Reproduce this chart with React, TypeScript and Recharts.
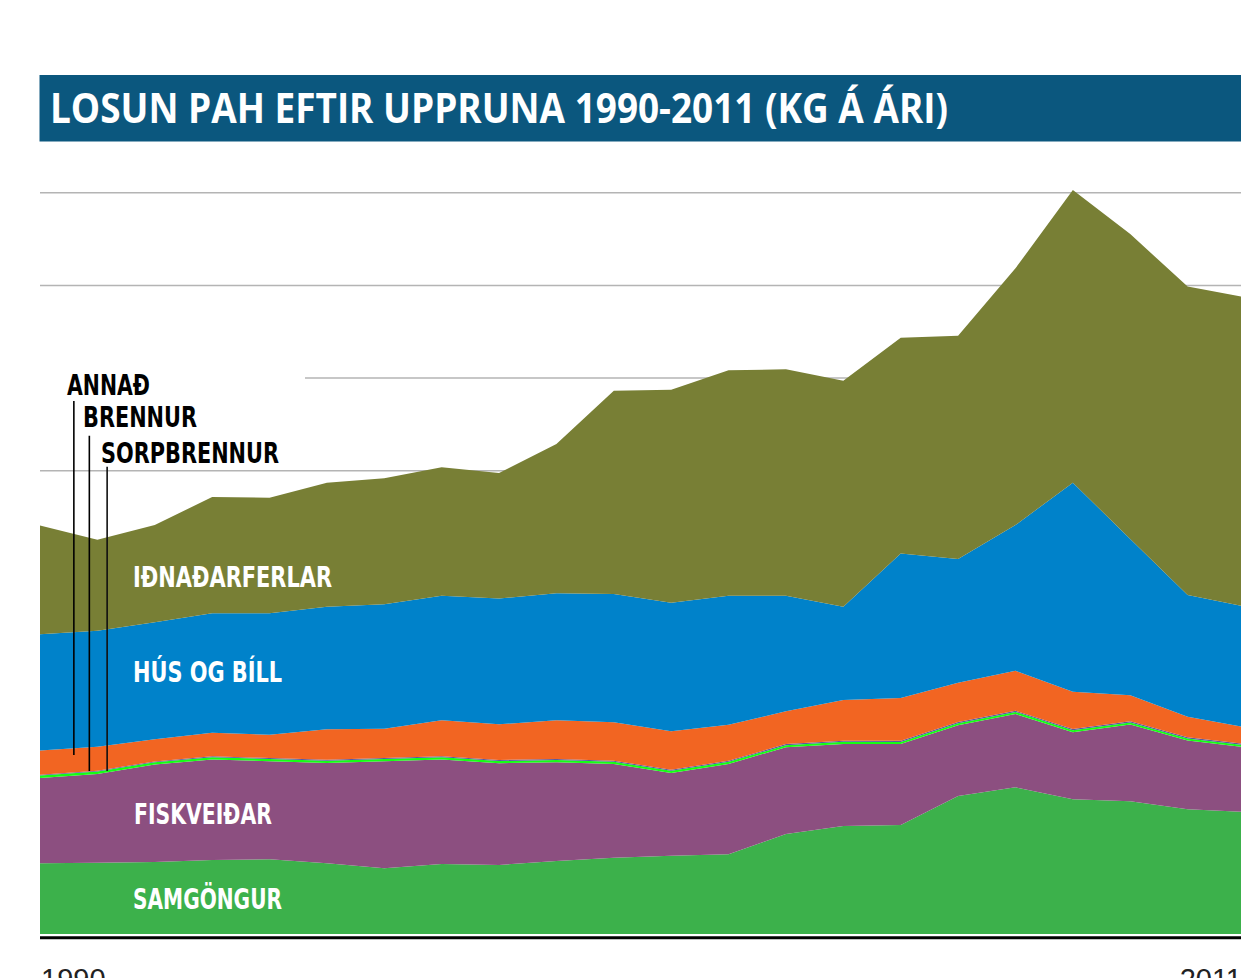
import React from 'react';
import { AreaChart, Area, XAxis, YAxis, CartesianGrid, ReferenceLine } from 'recharts';

const years = [1990, 1991, 1992, 1993, 1994, 1995, 1996, 1997, 1998, 1999, 2000, 2001, 2002, 2003, 2004, 2005, 2006, 2007, 2008, 2009, 2010, 2011];
const samgongur = [0.763, 0.770, 0.777, 0.799, 0.806, 0.763, 0.709, 0.756, 0.745, 0.788, 0.824, 0.845, 0.860, 1.079, 1.166, 1.176, 1.489, 1.583, 1.454, 1.432, 1.346, 1.317];
const fiskveidar = [0.922, 0.958, 1.052, 1.085, 1.059, 1.084, 1.156, 1.128, 1.099, 1.066, 1.012, 0.894, 0.976, 0.937, 0.886, 0.875, 0.764, 0.792, 0.724, 0.829, 0.743, 0.699];
const sorpbrennur = [0.027, 0.026, 0.025, 0.025, 0.024, 0.024, 0.024, 0.023, 0.023, 0.023, 0.022, 0.022, 0.022, 0.022, 0.022, 0.022, 0.022, 0.022, 0.022, 0.022, 0.022, 0.022];
const brennur = [0.008, 0.008, 0.009, 0.009, 0.010, 0.010, 0.010, 0.011, 0.011, 0.011, 0.012, 0.012, 0.012, 0.012, 0.012, 0.012, 0.012, 0.012, 0.012, 0.012, 0.012, 0.012];
const annad = [0.260, 0.260, 0.238, 0.255, 0.252, 0.329, 0.317, 0.389, 0.386, 0.418, 0.415, 0.415, 0.389, 0.353, 0.440, 0.461, 0.425, 0.432, 0.403, 0.281, 0.223, 0.181];
const husOgBill = [1.256, 1.252, 1.263, 1.289, 1.310, 1.323, 1.343, 1.345, 1.356, 1.371, 1.385, 1.388, 1.392, 1.248, 1.007, 1.562, 1.335, 1.573, 2.256, 1.687, 1.314, 1.302];
const idnadarferlar = [1.172, 0.982, 1.050, 1.255, 1.248, 1.338, 1.360, 1.386, 1.357, 1.611, 2.194, 2.299, 2.433, 2.444, 2.439, 2.327, 2.410, 2.771, 3.159, 3.292, 3.328, 3.339];

const gridTicks = [5, 6, 7, 8];
const xTicks = [1990, 2011];

const TITLE = 'LOSUN PAH EFTIR UPPRUNA 1990-2011 (KG Á ÁRI)';

const data = years.map((year, i) => ({
  year,
  samgongur: samgongur[i],
  fiskveidar: fiskveidar[i],
  sorpbrennur: sorpbrennur[i],
  brennur: brennur[i],
  annad: annad[i],
  husOgBill: husOgBill[i],
  idnadarferlar: idnadarferlar[i],
}));

const labelFont = "'Liberation Sans Narrow','DejaVu Sans Condensed','Open Sans','DejaVu Sans',sans-serif";

const XTick = (props: any) => {
  const { x, y, payload } = props;
  const first = payload.value === years[0];
  return (
    <text
      x={first ? x + 1 : x - 3}
      y={y + 51}
      textAnchor={first ? 'start' : 'end'}
      fontFamily="'Liberation Sans', Arial, sans-serif"
      fontSize={29}
      fill="#222"
    >
      {payload.value}
    </text>
  );
};

const EmptyTick = () => <g />;

const L = (p: { x: number; y: number; w: number; t: string; fill: string; size?: number }) => (
  <text
    x={p.x}
    y={p.y}
    textLength={p.w}
    lengthAdjust="spacingAndGlyphs"
    fontFamily={labelFont}
    fontWeight={700}
    fontSize={p.size ?? 29}
    fill={p.fill}
  >
    {p.t}
  </text>
);

export default function App() {
  return (
    <div style={{ position: 'absolute', left: 0, top: 0, width: 1241, height: 978, overflow: 'hidden', background: '#fff' }}>
      <AreaChart
        width={1260}
        height={978}
        data={data}
        margin={{ top: 146.5, right: 15, bottom: 0.3, left: 40 }}
      >
        <CartesianGrid horizontal vertical={false} horizontalValues={gridTicks} stroke="#b4b4b4" strokeWidth={1.5} />
        <XAxis
          dataKey="year"
          type="number"
          domain={[1990, 2011]}
          ticks={xTicks}
          height={40}
          tickSize={0}
          tickMargin={0}
          tickLine={false}
          axisLine={{ stroke: '#000', strokeWidth: 3 }}
          tick={<XTick />}
          interval={0}
        />
        <YAxis
          type="number"
          domain={[-0.04, 8.5]}
          ticks={gridTicks}
          width={0}
          tick={<EmptyTick />}
          tickLine={false}
          axisLine={false}
          interval={0}
        />
        <Area dataKey="samgongur" stackId="a" type="linear" fill="#3cb14b" fillOpacity={1} stroke="none" isAnimationActive={false} />
        <Area dataKey="fiskveidar" stackId="a" type="linear" fill="#8c4f80" fillOpacity={1} stroke="none" isAnimationActive={false} />
        <Area dataKey="sorpbrennur" stackId="a" type="linear" fill="#14ff14" fillOpacity={1} stroke="none" isAnimationActive={false} />
        <Area dataKey="brennur" stackId="a" type="linear" fill="#5a5aa0" fillOpacity={1} stroke="none" isAnimationActive={false} />
        <Area dataKey="annad" stackId="a" type="linear" fill="#f26522" fillOpacity={1} stroke="none" isAnimationActive={false} />
        <Area dataKey="husOgBill" stackId="a" type="linear" fill="#0082ca" fillOpacity={1} stroke="none" isAnimationActive={false} />
        <Area dataKey="idnadarferlar" stackId="a" type="linear" fill="#787f35" fillOpacity={1} stroke="none" isAnimationActive={false} />
        <ReferenceLine segment={[{ x: 1990.59, y: 5.753 }, { x: 1990.59, y: 1.932 }]} stroke="#000" strokeWidth={1.6} />
        <ReferenceLine segment={[{ x: 1990.86, y: 5.378 }, { x: 1990.86, y: 1.759 }]} stroke="#000" strokeWidth={1.6} />
        <ReferenceLine segment={[{ x: 1991.17, y: 5.044 }, { x: 1991.17, y: 1.759 }]} stroke="#111" strokeWidth={1.6} />
      </AreaChart>
      <svg
        width={1241}
        height={978}
        style={{ position: 'absolute', left: 0, top: 0, pointerEvents: 'none' }}
      >
        <rect x={39.5} y={75} width={1210} height={66.5} fill="#0b577e" />
        <text
          x={50}
          y={123}
          textLength={898}
          lengthAdjust="spacingAndGlyphs"
          fontFamily="'Open Sans','DejaVu Sans',sans-serif"
          fontWeight={700}
          fontSize={42}
          fill="#fff"
        >
          {TITLE}
        </text>
        <rect x={40} y={369} width={265} height={20} fill="#fff" />
        <L x={67} y={395} w={83} t="ANNAÐ" fill="#000" size={28} />
        <L x={83} y={427} w={114} t="BRENNUR" fill="#000" size={28} />
        <L x={101} y={462.5} w={178} t="SORPBRENNUR" fill="#000" size={28} />
        <L x={133} y={587} w={199} t="IÐNAÐARFERLAR" fill="#fff" />
        <L x={133} y={682} w={149} t="HÚS OG BÍLL" fill="#fff" />
        <L x={134} y={824} w={138} t="FISKVEIÐAR" fill="#fff" />
        <L x={133} y={909} w={149} t="SAMGÖNGUR" fill="#fff" />
      </svg>
    </div>
  );
}
